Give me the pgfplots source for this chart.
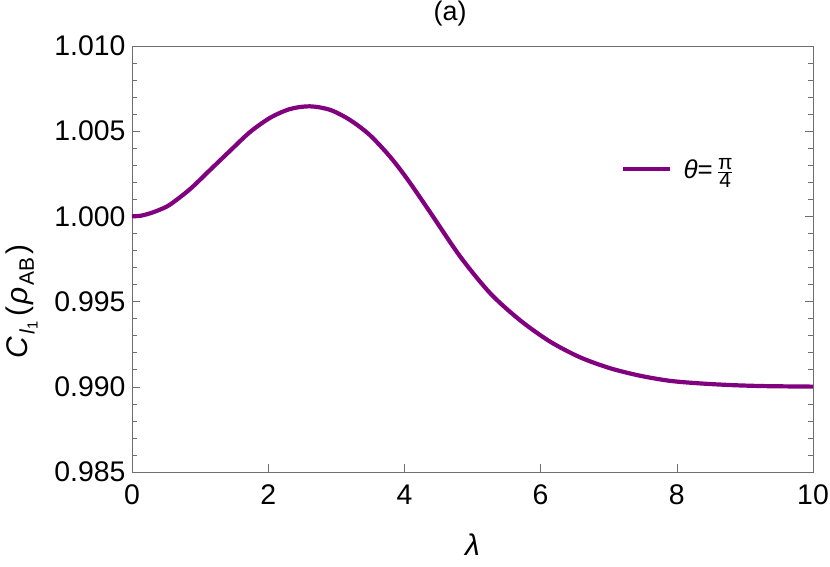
\documentclass[border=0pt]{standalone}
\usepackage{fontspec}
\setmainfont{Liberation Sans}
\usepackage{pgfplots}
\pgfplotsset{compat=1.18}
\definecolor{curve}{RGB}{128,0,128}
\definecolor{framegray}{RGB}{110,110,110}
\begin{document}
\begin{tikzpicture}
\path[use as bounding box] (-132bp,-95bp) rectangle (698bp,472bp);
\begin{axis}[
  at={(0,0)}, anchor=south west,
  width=681bp, height=426bp, scale only axis=true,
  xmin=0, xmax=10, ymin=0.985, ymax=1.010,
  xtick={0,2,4,6,8,10},
  ytick={0.985,0.990,0.995,1.000,1.005,1.010},
  minor y tick num=4,
  xtick pos=lower, ytick pos=both, yticklabel pos=left,
  tick align=inside,
  major tick length=8bp, minor tick length=5bp,
  every tick/.style={framegray, line width=0.6bp},
  axis line style={framegray, line width=0.8bp},
  scaled y ticks=false,
  /pgf/number format/assume math mode=true,
  yticklabel style={/pgf/number format/fixed, /pgf/number format/fixed zerofill, /pgf/number format/precision=3, xshift=-3bp},
  xticklabel style={yshift=-9bp},
  tick label style={font=\fontsize{28.5}{32}\selectfont, text=black},
  xlabel={\textit{λ}},
  ylabel={\textit{C}\kern2bp\textsubscript{\textit{l}\textsubscript{1}}\kern4bp(\kern2bp\textit{ρ}\kern2bp\textsubscript{AB}\kern3bp)},
  label style={font=\fontsize{30}{34}\selectfont},
  xlabel style={at={(axis description cs:0.5,-0.171)}, anchor=center},
  ylabel style={at={(axis description cs:-0.1615,0.258)}, anchor=west},
  title={(a)},
  title style={at={(axis description cs:0.467,1.062)}, anchor=center, font=\fontsize{27}{30}\selectfont},
  legend style={at={(axis description cs:0.717,0.711)}, anchor=west, draw=none, fill=none, inner sep=0pt, font=\fontsize{26}{30}\selectfont},
  legend cell align=left,
  legend image code/.code={\draw[#1, line width=4.2bp] (0bp,0bp) -- (47bp,0bp);},
]
\addplot[curve, line width=4.2bp, smooth] coordinates {
(0,1.00000) (0.13,1.00004) (0.264,1.00018) (0.4,1.00038) (0.558,1.00069) (0.852,1.00160) (1.145,1.00272)
(1.44,1.00385) (1.733,1.00495) (2.03,1.00579) (2.32,1.00630) (2.61,1.00646)
(2.91,1.00625) (3.20,1.00566) (3.49,1.00478) (3.79,1.00350) (4.05,1.00215)
(4.38,1.00023) (4.82,0.99764) (5.26,0.99549) (5.70,0.99390) (6.14,0.99265)
(6.58,0.99173) (7.02,0.99109) (7.46,0.99065) (7.90,0.99035) (8.34,0.99020)
(8.8,0.99010) (9.3,0.99004) (10,0.99001)
};
\addlegendentry{\hspace{10bp}\textit{θ}=\kern4bp\(\frac{\mbox{\fontsize{21}{21}\selectfont π}}{\mbox{\fontsize{21}{21}\selectfont 4}}\)}
\end{axis}
\end{tikzpicture}
\end{document}
